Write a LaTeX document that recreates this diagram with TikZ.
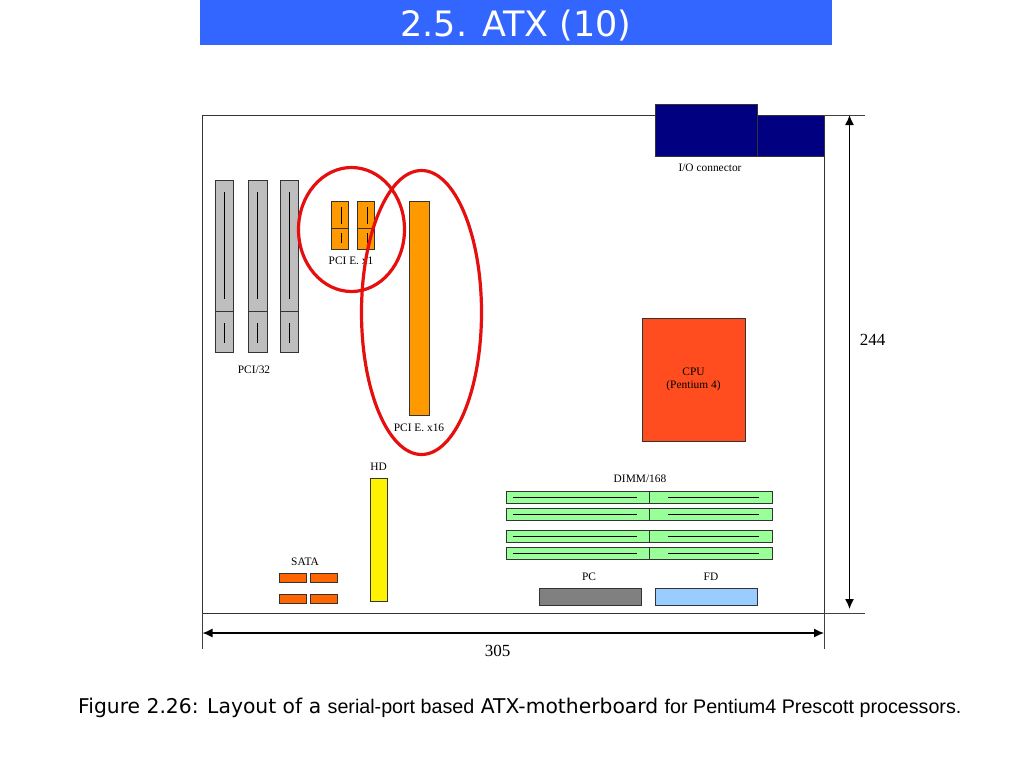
\documentclass[tikz,border=0pt]{standalone}
\usepackage{fontspec}
\usepackage{xcolor}
\setmainfont{Liberation Serif}
\newfontfamily\titlefont{DejaVu Sans}
\newfontfamily\capfont{Liberation Sans}
\usetikzlibrary{arrows.meta}
\definecolor{titleblue}{HTML}{3366FF}
\definecolor{slotgray}{HTML}{BEBEBE}
\definecolor{pcieorange}{HTML}{FF9900}
\definecolor{cpured}{HTML}{FF4D1F}
\definecolor{dimmgreen}{HTML}{99FF99}
\definecolor{sataorange}{HTML}{FF6600}
\definecolor{fdblue}{HTML}{99CCFF}
\definecolor{ringred}{HTML}{E60F0F}
\definecolor{ionavy}{HTML}{000080}
\tikzset{
    part/.style={draw=black!80, line width=1pt},
    pin/.style={draw=black, line width=1pt},
    lbl/.style={inner sep=0pt, font=\fontsize{11.4}{13}\selectfont},
    dimline/.style={draw=black!75, line width=1pt},
    dimarrow/.style={draw=black, line width=1.3pt, {Latex[length=10pt,width=9pt]}-{Latex[length=10pt,width=9pt]}},
    ring/.style={draw=ringred, line width=3.2pt}
}

\begin{document}
\begin{tikzpicture}[x=1pt,y=-1pt]
    \useasboundingbox (0,0) rectangle (1024,768);

    \fill[titleblue] (200,0) rectangle (832,45);
    \node[inner sep=0pt, text=white, font=\titlefont\fontsize{35}{40}\selectfont] (title) at (516,26) {2.5. ATX (10)};

    \draw[line width=1pt, draw=black!80] (202.5,115) rectangle (824,613);

    \draw[part, fill=ionavy] (655,104) rectangle (757,156);
    \draw[part, fill=ionavy] (757,115) rectangle (824,156);
    \node[lbl] (iolabel) at (710,167.5) {I/O connector};

    \draw[part, fill=slotgray] (215,180) rectangle (233.5,352);
    \draw[part] (215,311) -- (233.5,311);
    \draw[pin] (224,192) -- (224,299);
    \draw[pin] (224,323) -- (224,343);
    \draw[part, fill=slotgray] (248,180) rectangle (267,352);
    \draw[part] (248,311) -- (267,311);
    \draw[pin] (257.5,192) -- (257.5,299);
    \draw[pin] (257.5,323) -- (257.5,343);
    \draw[part, fill=slotgray] (280,180) rectangle (298.5,352);
    \draw[part] (280,311) -- (298.5,311);
    \draw[pin] (289,192) -- (289,299);
    \draw[pin] (289,323) -- (289,343);
    \node[lbl] (pcilabel) at (254,369.5) {PCI/32};

    \draw[part, fill=pcieorange] (331.5,201) rectangle (348.5,249);
    \draw[part] (331.5,228) -- (348.5,228);
    \draw[pin] (341,207) -- (341,224);
    \draw[pin] (341,233) -- (341,243);
    \draw[part, fill=pcieorange] (357.5,201) rectangle (374,249);
    \draw[part] (357.5,228) -- (374,228);
    \draw[pin] (367,207) -- (367,224);
    \draw[pin] (367,233) -- (367,243);
    \node[lbl] (xonelabel) at (351,261) {PCI E. x1};

    \draw[part, fill=pcieorange] (409.5,201) rectangle (429.5,415);
    \node[lbl] (xsixteenlabel) at (419,427.5) {PCI E. x16};

    \draw[ring] (351.5,229.5) ellipse (53 and 62);
    \draw[ring] (421.5,312.5) ellipse (60 and 142);

    \draw[part, fill=cpured] (642,318) rectangle (745,441);
    \node[lbl] (cpulabel) at (693.5,372) {CPU};
    \node[lbl] (pentiumlabel) at (693.5,386) {(Pentium 4)};

    \node[lbl] (hdlabel) at (378.5,467) {HD};
    \draw[part, fill=yellow] (370.5,478) rectangle (387,601);

    \node[lbl] (satalabel) at (305,562) {SATA};
    \draw[part, fill=sataorange] (279.5,573.5) rectangle (306.5,582);
    \draw[part, fill=sataorange] (310.5,573.5) rectangle (337.5,582);
    \draw[part, fill=sataorange] (279.5,594.5) rectangle (306.5,603);
    \draw[part, fill=sataorange] (310.5,594.5) rectangle (337.5,603);

    \node[lbl] (dimmlabel) at (640,479) {DIMM/168};
    \draw[part, fill=dimmgreen] (506.5,491) rectangle (772,503);
    \draw[part] (649,491) -- (649,503);
    \draw[pin] (513,497) -- (637,497);
    \draw[pin] (668,497) -- (759,497);
    \draw[part, fill=dimmgreen] (506.5,508.5) rectangle (772,520.5);
    \draw[part] (649,508.5) -- (649,520.5);
    \draw[pin] (513,514) -- (637,514);
    \draw[pin] (668,514) -- (759,514);
    \draw[part, fill=dimmgreen] (506.5,530) rectangle (772,542);
    \draw[part] (649,530) -- (649,542);
    \draw[pin] (513,536) -- (637,536);
    \draw[pin] (668,536) -- (759,536);
    \draw[part, fill=dimmgreen] (506.5,547.5) rectangle (772,559.5);
    \draw[part] (649,547.5) -- (649,559.5);
    \draw[pin] (513,553) -- (637,553);
    \draw[pin] (668,553) -- (759,553);

    \node[lbl] (pclabel) at (589,577) {PC};
    \node[lbl] (fdlabel) at (711,577) {FD};
    \draw[part, fill=black!50] (539,588.5) rectangle (641,605);
    \draw[part, fill=fdblue] (655,588.5) rectangle (757,605);

    \coordinate (topright) at (824,115);
    \coordinate (topfree) at (865,115);
    \coordinate (botright) at (824,613);
    \coordinate (botfree) at (865,613);
    \coordinate (leftbot) at (202.5,613);
    \coordinate (leftfree) at (202.5,649);
    \coordinate (rightfree) at (824,649);
    \coordinate (vtop) at (849.5,115);
    \coordinate (vbot) at (849.5,609);
    \coordinate (hleft) at (202.5,633);
    \coordinate (hright) at (824,633);
    \draw[dimline] (topright) -- (topfree);
    \draw[dimline] (botright) -- (botfree);
    \draw[dimline] (leftbot) -- (leftfree);
    \draw[dimline] (botright) -- (rightfree);
    \draw[dimarrow] (vtop) -- (vbot);
    \draw[dimarrow] (hleft) -- (hright);
    \node[lbl, font=\fontsize{17}{19}\selectfont] (heightlabel) at (872.5,339.5) {244};
    \node[lbl, font=\fontsize{17}{19}\selectfont] (widthlabel) at (497.5,650.5) {305};

    \node[inner sep=0pt, anchor=base west, font=\titlefont\fontsize{20.3}{24}\selectfont] (caption) at (78,713.5) {Figure 2.26: Layout of a {\capfont\fontsize{19.7}{24}\selectfont serial-port based} ATX-motherboard {\capfont\fontsize{19.7}{24}\selectfont for Pentium4 Prescott processors.}};
\end{tikzpicture}
\end{document}
